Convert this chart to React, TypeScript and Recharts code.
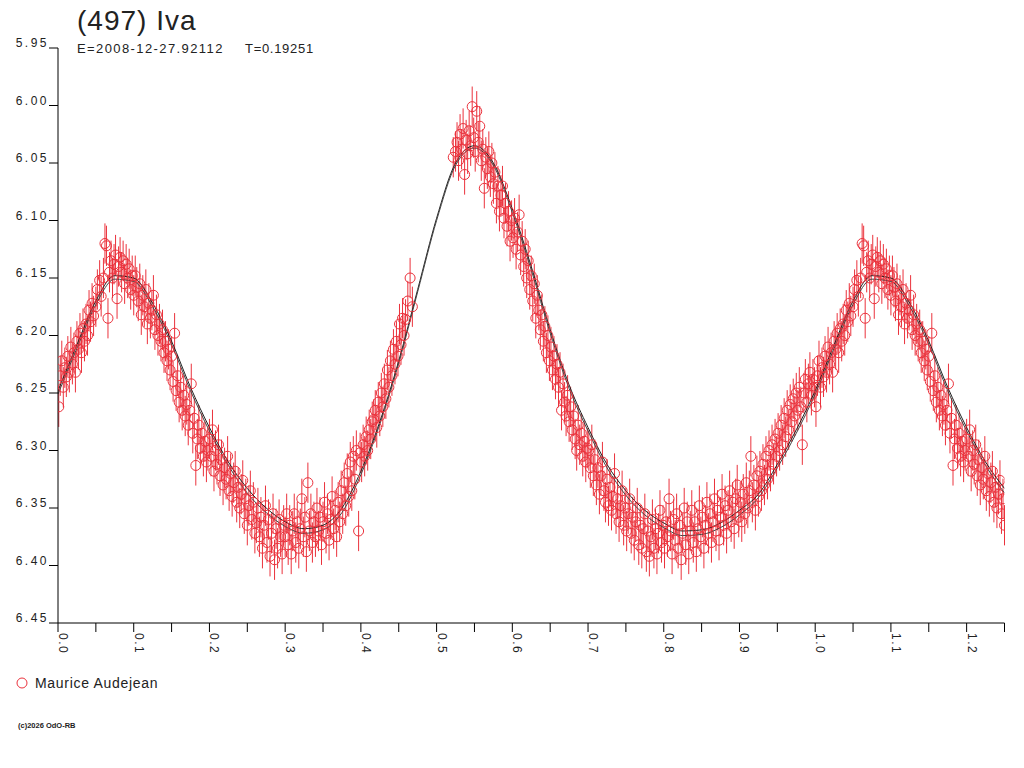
import React from 'react';
import { ComposedChart, Scatter, Line, XAxis, YAxis, ErrorBar } from 'recharts';

const TITLE = '(497) Iva';
const EPOCH_TEXT = 'E=2008-12-27.92112';
const PERIOD_TEXT = 'T=0.19251';
const OBSERVER = 'Maurice Audejean';
const COPYRIGHT = '(c)2026 OdO-RB';

const RED = '#eb323c';
const FONT = '"Liberation Sans", Arial, sans-serif';

const X_TICKS = [0, 0.05, 0.1, 0.15, 0.2, 0.25, 0.3, 0.35, 0.4, 0.45, 0.5, 0.55, 0.6, 0.65, 0.7, 0.75, 0.8, 0.85, 0.9, 0.95, 1.0, 1.05, 1.1, 1.15, 1.2, 1.25];
const X_LABELS = ['0.0', '0.1', '0.2', '0.3', '0.4', '0.5', '0.6', '0.7', '0.8', '0.9', '1.0', '1.1', '1.2'];
const Y_TICKS = [5.95, 6.0, 6.05, 6.1, 6.15, 6.2, 6.25, 6.3, 6.35, 6.4, 6.45];

const ERR = 0.0175;

const SEG_A: [number, number][] = [
  [0.001, 6.262], [0.003, 6.235], [0.005, 6.222], [0.007, 6.245], [0.009, 6.228], [0.011, 6.236], [0.013, 6.218], [0.015, 6.232], [0.017, 6.210], [0.019, 6.225],
  [0.021, 6.215], [0.023, 6.232], [0.025, 6.205], [0.027, 6.212], [0.029, 6.198], [0.031, 6.215], [0.033, 6.194], [0.035, 6.205], [0.037, 6.190], [0.039, 6.200],
  [0.041, 6.178], [0.043, 6.188], [0.045, 6.172], [0.047, 6.183], [0.050, 6.175], [0.052, 6.160], [0.055, 6.152], [0.057, 6.166], [0.060, 6.150], [0.062, 6.120],
  [0.064, 6.122], [0.066, 6.185], [0.068, 6.145], [0.070, 6.135], [0.072, 6.150], [0.074, 6.138], [0.076, 6.130], [0.078, 6.168], [0.080, 6.140], [0.082, 6.132],
  [0.084, 6.145], [0.086, 6.135], [0.088, 6.155], [0.090, 6.138], [0.092, 6.150], [0.094, 6.142], [0.096, 6.160], [0.098, 6.148],
];

const SEG_B: [number, number][] = [
  [0.100, 6.165], [0.102, 6.148], [0.104, 6.158], [0.106, 6.170], [0.108, 6.155], [0.110, 6.182], [0.112, 6.165], [0.114, 6.175], [0.116, 6.160], [0.118, 6.190],
  [0.120, 6.172], [0.122, 6.185], [0.124, 6.178], [0.126, 6.165], [0.128, 6.195], [0.130, 6.182], [0.132, 6.200], [0.134, 6.190], [0.136, 6.205], [0.138, 6.195],
  [0.140, 6.215], [0.142, 6.205], [0.144, 6.222], [0.146, 6.212], [0.148, 6.230], [0.150, 6.218], [0.152, 6.240], [0.154, 6.198], [0.156, 6.248], [0.158, 6.235],
  [0.160, 6.258], [0.162, 6.245], [0.164, 6.265], [0.166, 6.252], [0.168, 6.270], [0.170, 6.260], [0.172, 6.278], [0.174, 6.265], [0.176, 6.242], [0.178, 6.285],
  [0.180, 6.272], [0.182, 6.313], [0.184, 6.290], [0.186, 6.278], [0.188, 6.298], [0.190, 6.285], [0.192, 6.305], [0.194, 6.292], [0.196, 6.310], [0.198, 6.300],
];

const SEG_C: [number, number][] = [
  [0.200, 6.290], [0.202, 6.305], [0.204, 6.282], [0.206, 6.318], [0.208, 6.300], [0.210, 6.312], [0.212, 6.295], [0.214, 6.322], [0.216, 6.308], [0.218, 6.330],
  [0.220, 6.315], [0.222, 6.325], [0.224, 6.305], [0.226, 6.335], [0.228, 6.320], [0.230, 6.340], [0.232, 6.328], [0.234, 6.318], [0.236, 6.345], [0.238, 6.332],
  [0.240, 6.350], [0.242, 6.338], [0.244, 6.326], [0.246, 6.355], [0.248, 6.342], [0.250, 6.365], [0.252, 6.348], [0.254, 6.335], [0.256, 6.360], [0.258, 6.345],
  [0.260, 6.372], [0.262, 6.363], [0.264, 6.350], [0.266, 6.375], [0.268, 6.358], [0.270, 6.385], [0.272, 6.365], [0.274, 6.348], [0.276, 6.380], [0.278, 6.360],
  [0.280, 6.392], [0.282, 6.372], [0.284, 6.355], [0.286, 6.395], [0.288, 6.368], [0.290, 6.385], [0.292, 6.360], [0.294, 6.375], [0.296, 6.390], [0.298, 6.365],
];

const SEG_D: [number, number][] = [
  [0.300, 6.375], [0.302, 6.355], [0.304, 6.382], [0.306, 6.365], [0.308, 6.390], [0.310, 6.370], [0.312, 6.355], [0.314, 6.380], [0.316, 6.362], [0.318, 6.385],
  [0.320, 6.368], [0.322, 6.342], [0.324, 6.375], [0.326, 6.358], [0.328, 6.388], [0.330, 6.328], [0.332, 6.370], [0.334, 6.355], [0.336, 6.380], [0.338, 6.362],
  [0.340, 6.375], [0.342, 6.350], [0.344, 6.370], [0.346, 6.358], [0.348, 6.382], [0.350, 6.362], [0.352, 6.345], [0.354, 6.372], [0.356, 6.355], [0.358, 6.378],
  [0.360, 6.360], [0.362, 6.340], [0.364, 6.368], [0.366, 6.352], [0.368, 6.375], [0.370, 6.345], [0.372, 6.362], [0.374, 6.335], [0.376, 6.355], [0.378, 6.328],
  [0.380, 6.348], [0.382, 6.320], [0.384, 6.340], [0.386, 6.310], [0.388, 6.335], [0.390, 6.305], [0.392, 6.325], [0.394, 6.300], [0.397, 6.370], [0.399, 6.302],
];

const SEG_E: [number, number][] = [
  [0.401, 6.310], [0.403, 6.295], [0.405, 6.305], [0.407, 6.288], [0.409, 6.300], [0.411, 6.282], [0.413, 6.290], [0.415, 6.275], [0.417, 6.273], [0.419, 6.265],
  [0.421, 6.280], [0.423, 6.258], [0.425, 6.270], [0.427, 6.250], [0.429, 6.262], [0.431, 6.242], [0.433, 6.255], [0.435, 6.230], [0.437, 6.245], [0.439, 6.222],
  [0.441, 6.235], [0.443, 6.212], [0.445, 6.225], [0.447, 6.205], [0.449, 6.218], [0.451, 6.190], [0.453, 6.208], [0.455, 6.185], [0.457, 6.200], [0.459, 6.186],
  [0.462, 6.170], [0.465, 6.150], [0.468, 6.175],
];

const SEG_F: [number, number][] = [
  [0.522, 6.045], [0.525, 6.040], [0.527, 6.032], [0.529, 6.048], [0.531, 6.025], [0.533, 6.038], [0.535, 6.020], [0.537, 6.060], [0.539, 6.030], [0.541, 6.042],
  [0.543, 6.022], [0.545, 6.035], [0.547, 6.001], [0.549, 6.028], [0.551, 6.040], [0.553, 6.005], [0.555, 6.032], [0.557, 6.018], [0.559, 6.048], [0.561, 6.038],
  [0.563, 6.072], [0.565, 6.045], [0.567, 6.055], [0.569, 6.040], [0.571, 6.062], [0.573, 6.050], [0.575, 6.068], [0.577, 6.058], [0.579, 6.085], [0.581, 6.070],
  [0.583, 6.092], [0.585, 6.078], [0.587, 6.070], [0.589, 6.098], [0.591, 6.085], [0.593, 6.105], [0.595, 6.092], [0.597, 6.118], [0.599, 6.100],
];

const SEG_G: [number, number][] = [
  [0.601, 6.115], [0.603, 6.098], [0.605, 6.125], [0.607, 6.110], [0.609, 6.095], [0.611, 6.130], [0.613, 6.118], [0.615, 6.140], [0.617, 6.125], [0.619, 6.150],
  [0.621, 6.135], [0.623, 6.160], [0.625, 6.148], [0.627, 6.170], [0.629, 6.155], [0.631, 6.185], [0.633, 6.165], [0.635, 6.178], [0.637, 6.195], [0.639, 6.182],
  [0.641, 6.205], [0.643, 6.192], [0.645, 6.215], [0.647, 6.200], [0.649, 6.222], [0.651, 6.210], [0.653, 6.230], [0.655, 6.218], [0.657, 6.238], [0.659, 6.225],
  [0.661, 6.245], [0.663, 6.232], [0.665, 6.265], [0.667, 6.242], [0.669, 6.258], [0.671, 6.270], [0.673, 6.252], [0.675, 6.275], [0.677, 6.262], [0.679, 6.282],
  [0.681, 6.270], [0.683, 6.290], [0.685, 6.300], [0.687, 6.278], [0.689, 6.295], [0.691, 6.285], [0.693, 6.305], [0.695, 6.292], [0.697, 6.310], [0.699, 6.298],
];

const SEG_H: [number, number][] = [
  [0.701, 6.300], [0.703, 6.315], [0.705, 6.295], [0.707, 6.322], [0.709, 6.308], [0.711, 6.330], [0.713, 6.315], [0.715, 6.338], [0.717, 6.322], [0.719, 6.310],
  [0.721, 6.335], [0.723, 6.345], [0.725, 6.325], [0.727, 6.348], [0.729, 6.332], [0.731, 6.352], [0.733, 6.340], [0.735, 6.320], [0.737, 6.355], [0.739, 6.342],
  [0.741, 6.362], [0.743, 6.348], [0.745, 6.335], [0.747, 6.365], [0.749, 6.350], [0.751, 6.370], [0.753, 6.355], [0.755, 6.342], [0.757, 6.372], [0.759, 6.358],
  [0.761, 6.378], [0.763, 6.362], [0.765, 6.350], [0.767, 6.382], [0.769, 6.365], [0.771, 6.385], [0.773, 6.368], [0.775, 6.355], [0.777, 6.388], [0.779, 6.370],
  [0.781, 6.392], [0.783, 6.375], [0.785, 6.360], [0.787, 6.385], [0.789, 6.368], [0.791, 6.390], [0.793, 6.372], [0.795, 6.352], [0.797, 6.380], [0.799, 6.365],
];

const SEG_I: [number, number][] = [
  [0.801, 6.385], [0.803, 6.362], [0.805, 6.375], [0.807, 6.342], [0.809, 6.370], [0.811, 6.390], [0.813, 6.360], [0.815, 6.378], [0.817, 6.355], [0.819, 6.385],
  [0.821, 6.365], [0.823, 6.395], [0.825, 6.372], [0.827, 6.350], [0.829, 6.382], [0.831, 6.362], [0.833, 6.390], [0.835, 6.370], [0.837, 6.352], [0.839, 6.380],
  [0.841, 6.362], [0.843, 6.388], [0.845, 6.368], [0.847, 6.348], [0.849, 6.375], [0.851, 6.358], [0.853, 6.385], [0.855, 6.365], [0.857, 6.345], [0.859, 6.372],
  [0.861, 6.355], [0.863, 6.380], [0.865, 6.362], [0.867, 6.342], [0.869, 6.370], [0.871, 6.352], [0.873, 6.378], [0.875, 6.358], [0.877, 6.338], [0.879, 6.365],
  [0.881, 6.348], [0.883, 6.372], [0.885, 6.352], [0.887, 6.335], [0.889, 6.362], [0.891, 6.345], [0.893, 6.368], [0.895, 6.342], [0.897, 6.330], [0.899, 6.358],
];

const SEG_J: [number, number][] = [
  [0.901, 6.345], [0.903, 6.362], [0.905, 6.338], [0.907, 6.355], [0.909, 6.328], [0.911, 6.350], [0.913, 6.335], [0.915, 6.305], [0.917, 6.345], [0.919, 6.330],
  [0.921, 6.352], [0.923, 6.322], [0.925, 6.340], [0.927, 6.318], [0.929, 6.335], [0.931, 6.312], [0.933, 6.330], [0.935, 6.305], [0.937, 6.325], [0.939, 6.300],
  [0.941, 6.318], [0.943, 6.295], [0.945, 6.312], [0.947, 6.290], [0.949, 6.305], [0.951, 6.285], [0.953, 6.300], [0.955, 6.278], [0.957, 6.295], [0.959, 6.272],
  [0.961, 6.288], [0.963, 6.265], [0.965, 6.282], [0.967, 6.260], [0.969, 6.275], [0.971, 6.255], [0.973, 6.270], [0.975, 6.250], [0.977, 6.265], [0.979, 6.245],
  [0.981, 6.262], [0.983, 6.295], [0.985, 6.250], [0.987, 6.238], [0.989, 6.258], [0.991, 6.242], [0.993, 6.232], [0.995, 6.252], [0.997, 6.238], [0.999, 6.245],
];

const FIT_PHASE = [0, 0.025, 0.05, 0.075, 0.1, 0.125, 0.15, 0.175, 0.2, 0.225, 0.25, 0.275, 0.3, 0.325, 0.35, 0.375, 0.4, 0.425, 0.45, 0.475, 0.5,
  0.525, 0.55, 0.575, 0.6, 0.625, 0.65, 0.675, 0.7, 0.725, 0.75, 0.775, 0.8, 0.825, 0.85, 0.875, 0.9, 0.925, 0.95, 0.975, 1.0];
const FIT_MAG_A = [6.248, 6.208, 6.170, 6.148, 6.150, 6.172, 6.205, 6.245, 6.280, 6.310, 6.333, 6.350, 6.362, 6.368, 6.365, 6.350, 6.318, 6.275, 6.222, 6.160, 6.098,
  6.050, 6.035, 6.050, 6.090, 6.140, 6.195, 6.243, 6.280, 6.312, 6.335, 6.352, 6.363, 6.370, 6.369, 6.363, 6.352, 6.338, 6.312, 6.282, 6.248];
const FIT_MAG_B = [6.251, 6.211, 6.173, 6.151, 6.153, 6.175, 6.208, 6.248, 6.283, 6.313, 6.337, 6.354, 6.366, 6.372, 6.369, 6.354, 6.321, 6.277, 6.224, 6.162, 6.100,
  6.052, 6.037, 6.052, 6.093, 6.143, 6.198, 6.246, 6.283, 6.315, 6.339, 6.356, 6.367, 6.374, 6.373, 6.367, 6.356, 6.341, 6.315, 6.285, 6.251];

const BASE = [...SEG_A, ...SEG_B, ...SEG_C, ...SEG_D, ...SEG_E, ...SEG_F, ...SEG_G, ...SEG_H, ...SEG_I, ...SEG_J];
const points = [
  ...BASE.map(([p, m]) => ({ x: p, y: m, err: ERR })),
  ...BASE.filter(([p]) => p <= 0.25).map(([p, m]) => ({ x: p + 1, y: m, err: ERR })),
];

const buildFit = (mags: number[]) => [
  ...FIT_PHASE.map((p, i) => ({ x: p, y: mags[i] })),
  ...FIT_PHASE.filter((p) => p > 0 && p <= 0.25).map((p) => ({ x: p + 1, y: mags[FIT_PHASE.indexOf(p)] })),
];
const fitA = buildFit(FIT_MAG_A);
const fitB = buildFit(FIT_MAG_B);

const TEXT_COLOR = '#222';

const XTick = (props: any) => {
  const { x, y, payload } = props;
  const v = payload.value as number;
  const idx = Math.round(v * 100);
  const isMajor = idx % 10 === 0 && idx <= 120;
  const label = isMajor ? X_LABELS[idx / 10] : null;
  return (
    <g>
      <line x1={x} y1={y} x2={x} y2={y + 9} stroke="#000" strokeWidth={1} />
      {label && (
        <text
          transform={`translate(${x + 1},${y + 10}) rotate(90)`}
          fontSize={12}
          fontFamily={FONT}
          fill={TEXT_COLOR}
          letterSpacing={1.5}
          textAnchor="start"
        >
          {label}
        </text>
      )}
    </g>
  );
};

const YTick = (props: any) => {
  const { x, y, payload } = props;
  const v = payload.value as number;
  return (
    <g>
      <line x1={x - 9} y1={y} x2={x} y2={y} stroke="#000" strokeWidth={1} />
      <text x={x - 9} y={y - 1} fontSize={12} fontFamily={FONT} fill={TEXT_COLOR} textAnchor="end" letterSpacing={2.5}>
        {v.toFixed(2)}
      </text>
    </g>
  );
};

const Marker = (props: any) => {
  const { cx, cy } = props;
  if (cx == null || cy == null) return null;
  return <circle cx={cx} cy={cy} r={5} fill="none" stroke={RED} strokeWidth={1} />;
};

export default function App() {
  return (
    <div style={{ position: 'absolute', left: 0, top: 0, width: 1024, height: 768, background: '#fff' }}>
      <ComposedChart
        width={1024}
        height={768}
        margin={{ top: 48, right: 19.5, bottom: 115, left: 0 }}
      >
        <XAxis
          type="number"
          dataKey="x"
          domain={[0, 1.25]}
          ticks={X_TICKS}
          interval={0}
          allowDataOverflow
          tick={<XTick />}
          tickLine={false}
          tickSize={0}
          tickMargin={0}
          axisLine={{ stroke: '#000' }}
          height={30}
        />
        <YAxis
          type="number"
          dataKey="y"
          domain={[5.95, 6.45]}
          reversed
          ticks={Y_TICKS}
          interval={0}
          allowDataOverflow
          tick={<YTick />}
          tickLine={false}
          tickSize={0}
          tickMargin={0}
          axisLine={{ stroke: '#000' }}
          width={58}
        />
        <Scatter data={points} shape={<Marker />} isAnimationActive={false}>
          <ErrorBar dataKey="err" direction="y" width={0} stroke={RED} strokeWidth={1} isAnimationActive={false} />
        </Scatter>
        <Line data={fitA} dataKey="y" type="monotone" stroke="#222" strokeWidth={1} dot={false} isAnimationActive={false} />
        <Line data={fitB} dataKey="y" type="monotone" stroke="#444" strokeWidth={1} dot={false} isAnimationActive={false} />
      </ComposedChart>
      <svg width={1024} height={768} style={{ position: 'absolute', left: 0, top: 0, pointerEvents: 'none' }}>
        <text x={77} y={30} fontSize={28} fontFamily={FONT} fill={TEXT_COLOR} letterSpacing={1}>{TITLE}</text>
        <text x={77} y={53} fontSize={13} fontFamily={FONT} fill={TEXT_COLOR} letterSpacing={1.4}>{EPOCH_TEXT}</text>
        <text x={245} y={53} fontSize={13} fontFamily={FONT} fill={TEXT_COLOR} letterSpacing={0.7}>{PERIOD_TEXT}</text>
        <circle cx={22} cy={683} r={5} fill="none" stroke={RED} strokeWidth={1} />
        <text x={35} y={688} fontSize={14} fontFamily={FONT} fill={TEXT_COLOR} letterSpacing={0.7}>{OBSERVER}</text>
        <text x={18} y={728} fontSize={7.5} fontFamily={FONT} fill={TEXT_COLOR} fontWeight="bold">{COPYRIGHT}</text>
      </svg>
    </div>
  );
}
